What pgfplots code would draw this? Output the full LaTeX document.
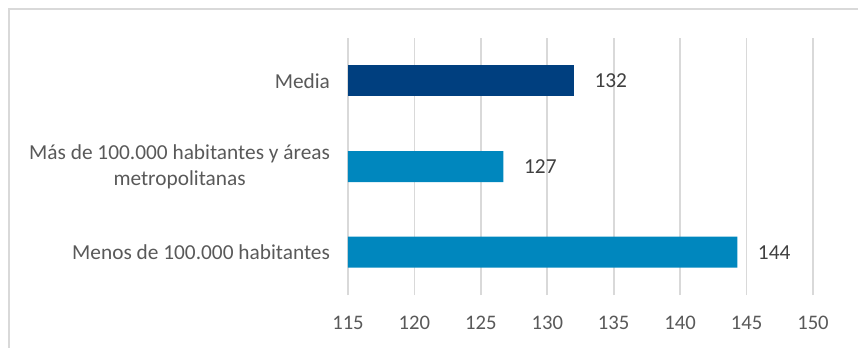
\documentclass[border=0pt]{standalone}
\usepackage{fontspec}
\setmainfont{Carlito}
\usepackage{pgfplots}
\pgfplotsset{compat=1.18}
\definecolor{gridc}{HTML}{D9D9D9}
\definecolor{labc}{HTML}{595959}
\definecolor{valc}{HTML}{404040}
\definecolor{darkb}{HTML}{003F7F}
\definecolor{lightb}{HTML}{0087BE}
\begin{document}
\begin{tikzpicture}[x=0.75pt,y=0.75pt]
\useasboundingbox (0,0) rectangle (858,347);
\draw[gridc, line width=1.5pt] (9,-5) -- (9,338) -- (870,338);
\begin{axis}[
  at={(261pt,39pt)}, anchor=south west,
  scale only axis, width=348.75pt, height=192.75pt,
  xmin=115, xmax=150, xtick={115,120,...,150},
  ymin=-0.5, ymax=2.5, ytick={0,1,2},
  yticklabels={Menos de 100.000 habitantes,{Más de 100.000 habitantes y áreas\\metropolitanas},Media},
  yticklabel style={align=center, font=\fontsize{16}{19.5}\selectfont, text=labc, xshift=-10pt},
  xticklabel style={font=\fontsize{15.5}{18}\selectfont, text=labc, yshift=-12pt},
  /pgf/number format/assume math mode=true,
  axis line style={draw=none},
  major tick length=0pt,
  xmajorgrids, grid style={gridc, line width=1.2pt},
  xbar, bar width=23.25pt, bar shift=0pt,
  nodes near coords={\pgfmathprintnumber[fixed,precision=0]{\pgfplotspointmeta}},
  nodes near coords style={font=\fontsize{16}{18}\selectfont, text=valc, xshift=12pt},
  point meta=x,
  clip=false,
]
\addplot[fill=lightb, draw=none] coordinates {(144.3,0) (126.7,1)};
\addplot[fill=darkb, draw=none] coordinates {(132.0,2)};
\end{axis}
\end{tikzpicture}
\end{document}
